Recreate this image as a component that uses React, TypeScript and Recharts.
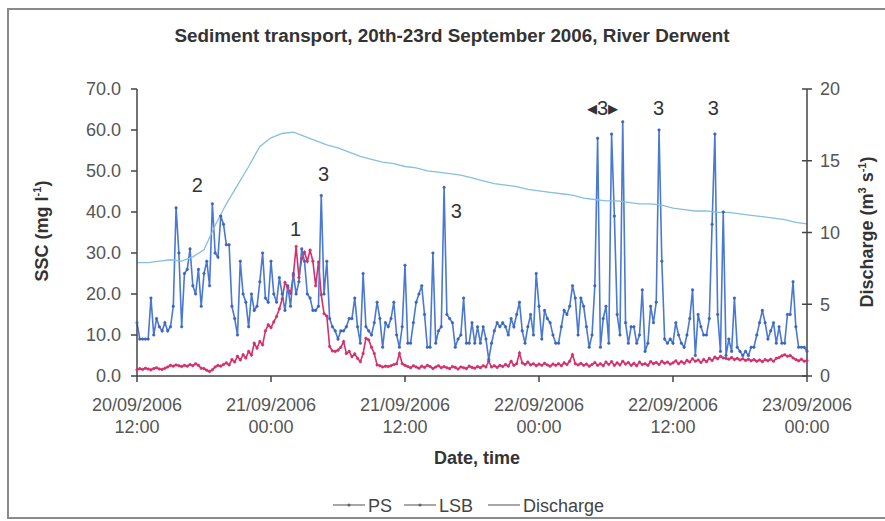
import { ComposedChart, Line, XAxis, YAxis, ReferenceDot } from 'recharts'

const FONT = '"Liberation Sans", Arial, sans-serif'

// x axis: hours since 20/09/2006 12:00
const xTicks = [0, 12, 24, 36, 48, 60]
const tickDates = ['20/09/2006', '21/09/2006', '21/09/2006', '22/09/2006', '22/09/2006', '23/09/2006']
const tickTimes = ['12:00', '00:00', '12:00', '00:00', '12:00', '00:00']

const sscTicks = [0, 10, 20, 30, 40, 50, 60, 70]
const qTicks = [0, 5, 10, 15, 20]

// SSC (mg/l), 15 min steps from 20/09 12:00
const lsb = [
  13, 9, 9, 9, 9, 19, 10, 14, 12, 11, 13, 11,
  12, 17, 41, 30, 12, 25, 26, 31, 22, 20, 26, 17,
  25, 28, 22, 42, 30, 29, 39, 37, 32, 32, 17, 14,
  10, 28, 20, 18, 12, 20, 16, 17, 23, 30, 19, 18,
  28, 20, 18, 24, 20, 16, 22, 17, 25, 20, 23, 31,
  28, 20, 19, 16, 16, 17, 44, 20, 28, 14, 12, 11,
  9, 11, 11, 12, 14, 14, 19, 12, 8, 25, 12, 11,
  10, 13, 18, 14, 7, 13, 12, 14, 18, 10, 7, 12,
  27, 8, 8, 13, 18, 20, 22, 15, 7, 7, 30, 8,
  11, 12, 46, 15, 14, 13, 7, 9, 10, 19, 8, 8,
  13, 8, 12, 8, 12, 9, 4, 8, 11, 13, 12, 13,
  12, 10, 14, 12, 15, 18, 11, 8, 12, 15, 10, 25,
  17, 9, 16, 14, 13, 10, 8, 8, 12, 16, 15, 17,
  22, 19, 10, 19, 17, 12, 7, 10, 22, 58, 7, 14,
  17, 8, 59, 39, 15, 10, 62, 13, 8, 12, 12, 8,
  10, 21, 6, 8, 17, 13, 18, 60, 28, 9, 8, 9,
  8, 13, 10, 8, 7, 10, 14, 21, 5, 15, 12, 10,
  10, 14, 37, 59, 15, 6, 40, 5, 9, 6, 19, 7,
  6, 5, 6, 5, 7, 7, 10, 13, 16, 13, 9, 11,
  13, 8, 12, 8, 8, 15, 15, 23, 12, 7, 7, 7,
  6,
]

const ps = [
  1.5, 1.8, 1.6, 1.9, 1.7, 1.5, 1.8, 2.0, 1.7, 1.6, 1.9, 2.2,
  2.6, 2.4, 2.7, 2.5, 2.3, 2.6, 2.4, 2.8, 2.5, 3.0, 2.6, 1.9,
  1.8, 1.4, 1.1, 1.5, 2.2, 2.6, 2.4, 2.8, 3.2, 2.7, 4.0, 3.4,
  4.8, 3.9, 5.2, 4.4, 6.0, 5.1, 8.0, 6.8, 8.4, 7.6, 11.0, 12.5,
  11.8, 13.2, 14.5, 16.4, 18.8, 22.8, 21.6, 20.2, 24.5, 31.6, 24.0, 28.6,
  30.2, 28.0, 30.7, 28.0, 22.0, 27.8, 19.8, 15.2, 14.6, 7.2, 6.1, 6.0,
  6.3, 7.0, 8.4, 5.5, 6.0, 4.7, 5.4, 4.3, 3.5, 5.5, 9.2, 8.8,
  7.0, 5.5, 2.7, 2.5, 2.2, 2.4, 2.3, 2.5, 2.8, 3.0, 5.5, 3.0,
  2.6, 2.3, 2.0, 2.5, 2.2, 1.9, 2.4, 2.1, 2.6, 2.3, 1.8, 2.2,
  2.5, 2.0, 2.3, 2.0, 1.8, 2.3, 2.1, 1.7, 2.2, 2.0, 1.8, 2.4,
  2.1, 1.9, 2.3, 2.0, 2.5, 2.2, 3.6, 2.2, 2.5, 2.1, 2.6, 2.3,
  2.8, 2.4, 3.6, 2.6, 3.0, 5.6, 3.2, 2.8, 3.4, 2.7, 3.0, 2.5,
  2.9, 2.6, 3.1, 2.7, 2.4, 2.9, 2.6, 3.0, 2.5, 3.2, 2.8, 3.6,
  5.2, 3.0, 2.7, 3.1, 2.6, 2.9, 2.4, 2.8, 3.3, 2.6, 3.0, 2.5,
  3.4, 2.8, 3.5, 2.6, 3.2, 2.7, 3.6, 2.9, 3.3, 2.6, 3.1, 2.5,
  3.4, 2.8, 3.0, 2.6, 3.5, 3.0, 3.3, 2.8, 3.6, 3.1, 3.4, 2.9,
  3.2, 3.7, 3.0, 3.5, 3.1, 3.8, 3.4, 4.2, 3.6, 3.9, 3.3, 4.0,
  3.5, 4.3, 3.8, 4.6, 4.2, 4.8, 4.4, 4.3, 4.1, 4.5, 4.0, 4.3,
  3.9, 4.2, 3.8, 4.1, 3.7, 4.0, 3.6, 3.9, 3.5, 4.0, 3.7, 4.1,
  3.6, 4.3, 4.5, 4.9, 5.2, 4.8, 5.0, 4.4, 4.0, 3.7, 4.1, 3.6,
  3.8,
]

// discharge (m3/s), hourly
const discharge = [
  7.9, 7.9, 8.0, 8.1, 8.0, 8.3, 8.8, 10.5, 12.0, 13.3, 14.6, 16.0,
  16.6, 16.9, 17.0, 16.7, 16.4, 16.1, 15.9, 15.6, 15.3, 15.1, 14.9, 14.8,
  14.6, 14.5, 14.3, 14.2, 14.1, 14.0, 13.8, 13.6, 13.4, 13.3, 13.2, 13.0,
  12.9, 12.8, 12.7, 12.6, 12.4, 12.3, 12.2, 12.2, 12.1, 12.0, 12.0, 11.9,
  11.7, 11.6, 11.5, 11.5, 11.4, 11.4, 11.3, 11.2, 11.1, 11.0, 10.9, 10.7,
  10.6,
]

// event labels (hour, SSC level, text)
const noteT = [5.4, 14.2, 16.7, 28.6, 41.7, 46.7, 51.6]
const noteV = [46.6, 35.9, 49.3, 40.2, 65.4, 65.4, 65.4]
const noteText = ['2', '1', '3', '3', '\u25C23\u25B8', '3', '3']

const lsbData = lsb.map((v, i) => ({ t: i * 0.25, v }))
const psData = ps.map((v, i) => ({ t: i * 0.25, v }))
const qData = discharge.map((v, i) => ({ t: i, v }))

const AXIS = '#444'
const TICK = '#555'

function DateTick({ x, y, payload }: any) {
  const i = xTicks.indexOf(payload.value)
  return (
    <text textAnchor="middle" fill={TICK} fontSize={18} fontFamily={FONT}>
      <tspan x={x} y={y + 29}>{tickDates[i]}</tspan>
      <tspan x={x} y={y + 51}>{tickTimes[i]}</tspan>
    </text>
  )
}

function RightTick({ x, y, payload }: any) {
  return (
    <g>
      <line x1={x - 5} x2={x + 5} y1={y} y2={y} stroke={AXIS} strokeWidth={1.5} />
      <text x={x + 13} y={y} dy="0.36em" fill={TICK} fontSize={18} fontFamily={FONT}>{payload.value}</text>
    </g>
  )
}

const legendItems = [
  { name: 'PS', x: 333, dot: true },
  { name: 'LSB', x: 404, dot: true },
  { name: 'Discharge', x: 488, dot: false },
]

export default function App() {
  return (
    <div style={{ position: 'absolute', left: 0, top: 0, width: 885, height: 521, overflow: 'hidden', background: '#fff', fontFamily: FONT }}>
      <div style={{ position: 'absolute', left: 7, top: 8, width: 900, height: 511, border: '2px solid #8a8a8a', boxSizing: 'border-box' }} />
      <div style={{ position: 'absolute', left: 0, top: 0 }}>
        <ComposedChart width={885} height={521} margin={{ top: 89, right: 0, bottom: 0, left: 0 }}>
          <XAxis
            dataKey="t"
            type="number"
            domain={[0, 60]}
            ticks={xTicks}
            height={145}
            tickSize={6}
            tickMargin={0}
            tick={<DateTick />}
            axisLine={{ stroke: AXIS, strokeWidth: 1.5 }}
            tickLine={{ stroke: AXIS, strokeWidth: 1.5 }}
          />
          <YAxis
            yAxisId="left"
            domain={[0, 70]}
            ticks={sscTicks}
            width={137}
            tickSize={6}
            tickMargin={10}
            tickFormatter={(v: number) => v.toFixed(1)}
            tick={{ fill: TICK, fontSize: 18, fontFamily: FONT }}
            axisLine={{ stroke: AXIS, strokeWidth: 1.5 }}
            tickLine={{ stroke: AXIS, strokeWidth: 1.5 }}
          />
          <YAxis
            yAxisId="right"
            orientation="right"
            domain={[0, 20]}
            ticks={qTicks}
            width={78}
            tickSize={0}
            tickMargin={0}
            tick={<RightTick />}
            tickLine={false}
            axisLine={{ stroke: AXIS, strokeWidth: 1.5 }}
          />
          <Line data={psData} dataKey="v" yAxisId="left" stroke="#d3306c" strokeWidth={1.6}
            dot={{ r: 1.3, fill: '#d3306c', stroke: '#d3306c', strokeWidth: 0.5 }} isAnimationActive={false} />
          <Line data={lsbData} dataKey="v" yAxisId="left" stroke="#4a78d2" strokeWidth={1.6}
            dot={{ r: 1.3, fill: '#3d64b8', stroke: '#3d64b8', strokeWidth: 0.5 }} isAnimationActive={false} />
          <Line data={qData} dataKey="v" yAxisId="right" stroke="#86bfdf" strokeWidth={1.3} dot={false} isAnimationActive={false} />
          {noteT.map((t, i) => (
            <ReferenceDot key={i} x={t} y={noteV[i]} yAxisId="left" r={0} fill="none" stroke="none"
              label={{ value: noteText[i], position: 'center', fill: '#333', fontSize: 20, fontFamily: FONT }} />
          ))}
        </ComposedChart>
      </div>
      <svg width={885} height={521} style={{ position: 'absolute', left: 0, top: 0, pointerEvents: 'none' }} fontFamily={FONT}>
        <text x={452} y={41.5} textAnchor="middle" fontSize={18} fontWeight="bold" fill="#333" textLength={555} lengthAdjust="spacingAndGlyphs">
          Sediment transport, 20th-23rd September 2006, River Derwent
        </text>
        <text transform="translate(48,231) rotate(-90)" textAnchor="middle" fontSize={18} fontWeight="bold" fill="#333">
          SSC (mg l<tspan dy={-7} fontSize={11}>-1</tspan><tspan dy={7}>)</tspan>
        </text>
        <text transform="translate(873,232) rotate(-90)" textAnchor="middle" fontSize={18} fontWeight="bold" fill="#333">
          Discharge (m<tspan dy={-7} fontSize={11}>3</tspan><tspan dy={7}> s</tspan><tspan dy={-7} fontSize={11}>-1</tspan><tspan dy={7}>)</tspan>
        </text>
        <text x={477} y={464} textAnchor="middle" fontSize={18} fontWeight="bold" fill="#333">Date, time</text>
        {legendItems.map(it => (
          <g key={it.name}>
            <line x1={it.x} x2={it.x + 32} y1={505} y2={505} stroke="#777" strokeWidth={1.3} />
            {it.dot && <circle cx={it.x + 16} cy={505} r={1.6} fill="#666" />}
            <text x={it.x + 35} y={511.5} fontSize={18} fill="#444">{it.name}</text>
          </g>
        ))}
      </svg>
    </div>
  )
}
